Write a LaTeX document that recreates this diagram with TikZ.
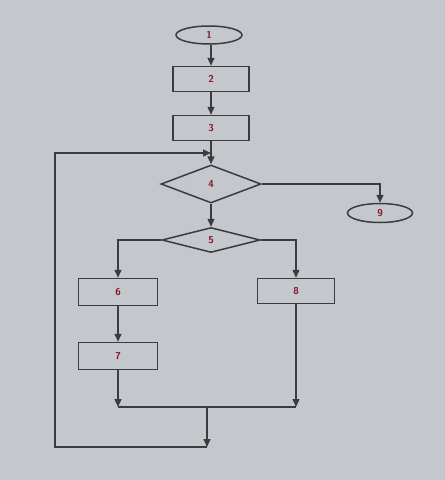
\documentclass[tikz,border=0pt]{standalone}
\usetikzlibrary{shapes.geometric,arrows.meta}
\definecolor{bgc}{RGB}{196,200,205}
\definecolor{linec}{RGB}{58,60,64}
\definecolor{txtc}{RGB}{135,20,35}
\begin{document}
\begin{tikzpicture}[x=1pt,y=-1pt,
  every node/.style={font=\sffamily\bfseries\fontsize{10}{11}\selectfont,text=txtc,draw=linec,line width=1.5pt,inner sep=0pt},
  procbox/.style={rectangle,minimum width=76pt,minimum height=25pt},
  termnode/.style={ellipse,minimum width=66pt,minimum height=18pt},
  decnode/.style={diamond,aspect=2.6,minimum width=100pt,minimum height=38pt},
  conn/.style={draw=linec,line width=1.5pt},
  arr/.style={conn,-{Triangle[length=8pt,width=7pt]}}]
\fill[bgc] (0,0) rectangle (445,480);
\useasboundingbox (0,0) rectangle (445,480);
\node[termnode] (n1) at (209,35) {1};
\node[procbox] (n2) at (211,79) {2};
\node[procbox] (n3) at (211,128) {3};
\node[decnode] (n4) at (211,184) {4};
\node[termnode,minimum width=65pt,minimum height=19pt] (n9) at (380,213) {9};
\node[decnode,minimum width=98pt,minimum height=25pt] (n5) at (211,240) {5};
\node[procbox,minimum width=79pt,minimum height=27pt] (n6) at (118,292) {6};
\node[procbox,minimum width=77pt,minimum height=25pt] (n8) at (296,291) {8};
\node[procbox,minimum width=79pt,minimum height=27pt] (n7) at (118,356) {7};
\coordinate (merge) at (207,407);
\coordinate (loopend) at (207,447);
\coordinate (loopin) at (211,153);
\draw[arr] (n1.south -| n2) -- (n2);
\draw[arr] (n2) -- (n3);
\draw[arr] (n3.south) -- (n4.north);
\draw[arr] (n4.east) -- (n4.east -| n9) -- (n9.north);
\draw[arr] (n4) -- (n5);
\draw[arr] (n5.west) -| (n6.north);
\draw[arr] (n5.east) -| (n8.north);
\draw[arr] (n6) -- (n7);
\draw[arr] (n7.south) -- (n7.south |- merge);
\draw[arr] (n8.south) -- (n8.south |- merge);
\draw[conn] (n7.south |- merge) -- (n8.south |- merge);
\draw[arr] (merge) -- (loopend);
\draw[arr] (loopend) -- (55,447) -- (55,153) -- (loopin);
\end{tikzpicture}
\end{document}
